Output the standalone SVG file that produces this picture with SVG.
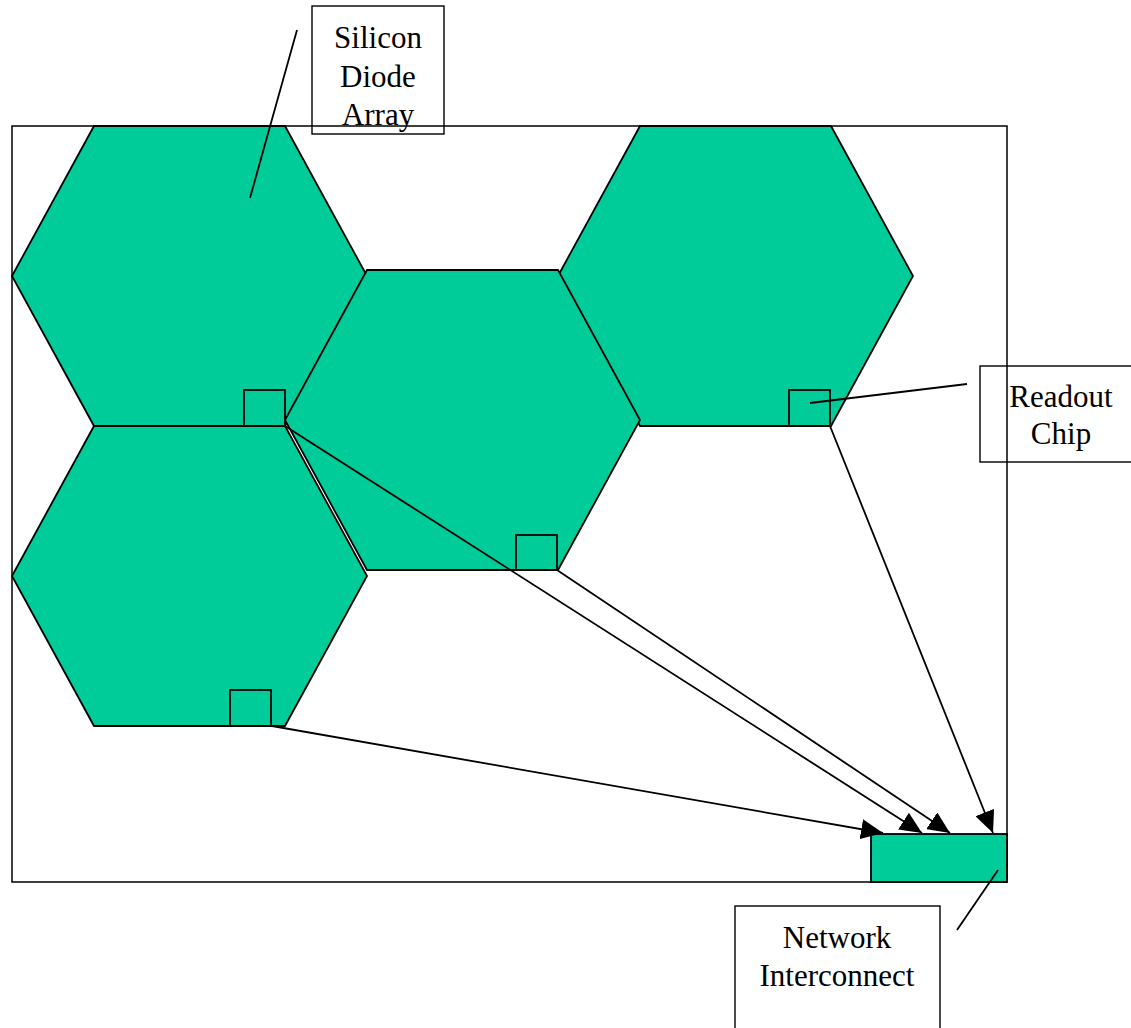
<svg xmlns="http://www.w3.org/2000/svg" width="1131" height="1028" viewBox="0 0 1131 1028">
<defs>
<style>
.hex{fill:#00CC99;stroke:#000;stroke-width:1.8;stroke-linejoin:miter}
.sq{fill:none;stroke:#000;stroke-width:1.8}
.box{fill:none;stroke:#000;stroke-width:1.4}
.ln{fill:none;stroke:#000;stroke-width:1.8}
.arr{fill:none;stroke:#000;stroke-width:1.8;marker-end:url(#ah)}
.lbl{font-family:"Liberation Serif","Times New Roman",serif;font-size:31px;fill:#000;text-anchor:middle}
</style>
<marker id="ah" markerUnits="userSpaceOnUse" markerWidth="24" markerHeight="20" viewBox="0 0 24 20" refX="22" refY="10" orient="auto">
<path d="M0,0 L22,10 L0,20 Z" fill="#000"/>
</marker>
</defs>
<rect id="frame" x="12" y="126" width="995" height="756" fill="#fff" stroke="#000" stroke-width="1.5"/>
<g id="hex-top-left"><polygon class="hex" points="12,276 94,126 285,126 367,276 285,426 94,426"/></g>
<g id="hex-bottom-left"><polygon class="hex" points="12,576 94,426 285,426 367,576 285,726 94,726"/></g>
<g id="hex-top-right"><polygon class="hex" points="558,276 640,126 831,126 913,276 831,426 640,426"/></g>
<g id="hex-center"><polygon class="hex" points="285,420 367,270 558,270 640,420 558,570 367,570"/></g>
<g id="chip-top-left"><rect class="sq" x="244" y="390" width="41" height="36"/></g>
<g id="chip-center"><rect class="sq" x="516" y="535" width="41" height="35"/></g>
<g id="chip-bottom-left"><rect class="sq" x="230" y="690" width="41" height="36"/></g>
<g id="chip-top-right"><rect class="sq" x="789" y="390" width="41" height="36"/></g>
<g id="network-interconnect"><rect x="871" y="834" width="136" height="48" fill="#00CC99" stroke="#000" stroke-width="1.8"/></g>
<g id="connectors">
<line class="arr" x1="272" y1="726" x2="883" y2="833"/>
<line class="arr" x1="285" y1="426" x2="922" y2="833"/>
<line class="arr" x1="557" y1="570" x2="950" y2="833"/>
<line class="arr" x1="830" y1="426" x2="993" y2="833"/>
<line class="ln" x1="297" y1="30" x2="250" y2="198"/>
<line class="ln" x1="810" y1="403" x2="967" y2="384"/>
<line class="ln" x1="957" y1="930" x2="998" y2="870"/>
</g>
<g id="label-silicon">
<rect class="box" x="312" y="6" width="132" height="128"/>
<text class="lbl" x="378" y="48">Silicon</text>
<text class="lbl" x="378" y="87">Diode</text>
<text class="lbl" x="378" y="125">Array</text>
</g>
<g id="label-readout">
<rect class="box" x="980" y="366" width="160" height="96"/>
<text class="lbl" x="1061" y="407">Readout</text>
<text class="lbl" x="1061" y="444">Chip</text>
</g>
<g id="label-network">
<rect class="box" x="735" y="906" width="205" height="130"/>
<text class="lbl" x="837" y="948">Network</text>
<text class="lbl" x="837" y="986">Interconnect</text>
</g>
</svg>
